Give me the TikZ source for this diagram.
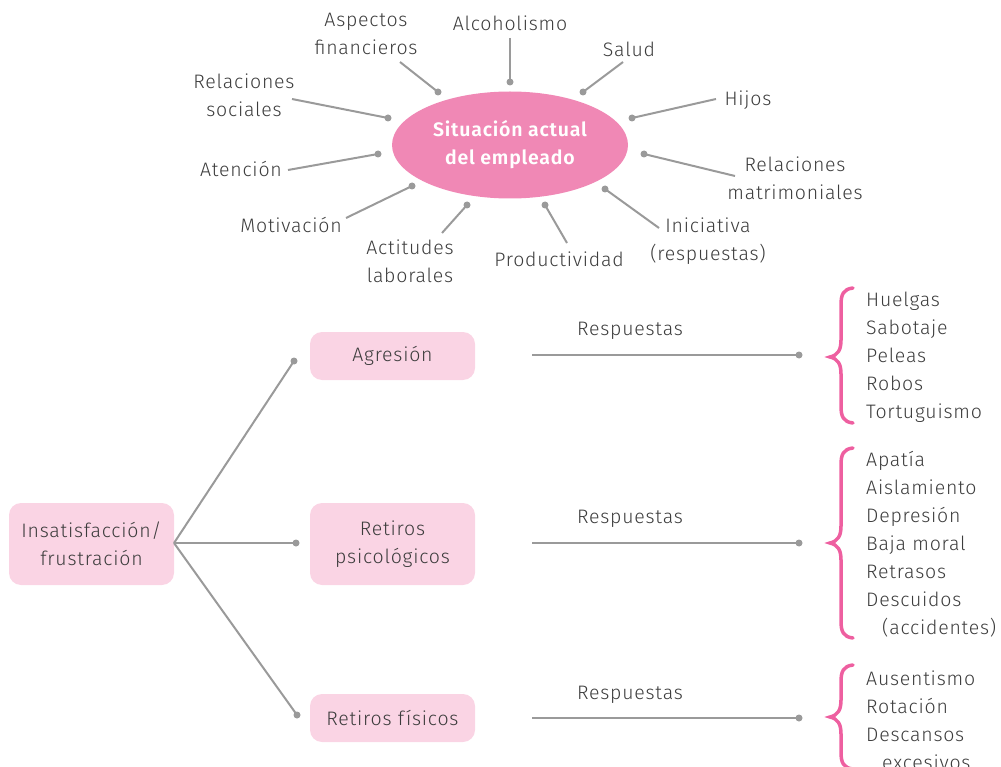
\documentclass[tikz,border=0pt]{standalone}
\usepackage{fontspec}
\setmainfont{Fira Sans Light}[BoldFont={Fira Sans SemiBold}, LetterSpace=4]
\usetikzlibrary{shapes.geometric}
\definecolor{txt}{HTML}{3C3C3C}
\definecolor{ln}{HTML}{9A9A9A}
\definecolor{ell}{HTML}{F088B5}
\definecolor{boxc}{HTML}{FAD4E4}
\definecolor{brc}{HTML}{EE5FA0}
\begin{document}
\begin{tikzpicture}[x=1pt,y=-1pt,
 lbl/.style={text=txt, font=\fontsize{19.5}{28}\selectfont, align=center, inner sep=0pt},
 lst/.style={text=txt, font=\fontsize{19.5}{28}\selectfont, align=left, inner sep=0pt, anchor=west},
 conn/.style={draw=ln, line width=2pt},
 dotn/.style={circle, fill=ln, inner sep=0pt, minimum size=7pt},
 pbox/.style={rounded corners=12pt, fill=boxc, minimum width=165pt, text=txt, font=\fontsize{19.5}{28}\selectfont, align=center, inner sep=0pt},
 bracep/.style={draw=brc, line width=3.5pt, line cap=round}]
\useasboundingbox (0,0) rectangle (1001,767);
\clip (0,0) rectangle (1001,767);

% central ellipse
\node[ellipse, fill=ell, minimum width=236pt, minimum height=107pt, inner sep=0pt,
  text=white, font=\fontsize{19.5}{28}\selectfont\bfseries, align=center] (sit) at (510,145) {Situación actual\\del empleado};

% labels
\node[lbl] (asp) at (366,34) {Aspectos\\financieros};
\node[lbl] (alc) at (510,23) {Alcoholismo};
\node[lbl] (sal) at (629,49) {Salud};
\node[lbl] (rso) at (244,95) {Relaciones\\sociales};
\node[lbl] (ate) at (241,169) {Atención};
\node[lbl] (mot) at (291,225) {Motivación};
\node[lbl] (act) at (410,261) {Actitudes\\laborales};
\node[lbl] (pro) at (559,259) {Productividad};
\node[lbl] (ini) at (708,241) {Iniciativa\\(respuestas)};
\node[lbl] (hij) at (748,100) {Hijos};
\node[lbl] (rma) at (795,178) {Relaciones\\matrimoniales};

% dots
\node[dotn] (dasp) at (438,92) {};
\node[dotn] (dalc) at (510,82) {};
\node[dotn] (dsal) at (583,92) {};
\node[dotn] (drso) at (388,118) {};
\node[dotn] (date) at (378,154) {};
\node[dotn] (dmot) at (412,186) {};
\node[dotn] (dact) at (467,205) {};
\node[dotn] (dpro) at (545,205) {};
\node[dotn] (dini) at (605,189) {};
\node[dotn] (dhij) at (632,118) {};
\node[dotn] (drma) at (644,154) {};

% free ends near labels
\coordinate (easp) at (400,62);
\coordinate (ealc) at (510,38);
\coordinate (esal) at (623,62);
\coordinate (erso) at (292,99);
\coordinate (eate) at (288,170);
\coordinate (emot) at (346,218);
\coordinate (eact) at (442,233);
\coordinate (epro) at (567,243);
\coordinate (eini) at (659,228);
\coordinate (ehij) at (716,99);
\coordinate (erma) at (735,176);

\foreach \n in {asp,alc,sal,rso,ate,mot,act,pro,ini,hij,rma}
  \draw[conn] (e\n) -- (d\n.center);

% lower part boxes
\node[pbox, minimum height=82pt] (ins) at (91.5,544) {Insatisfacción/\\frustración};
\node[pbox, minimum height=48pt] (agr) at (392.5,356) {Agresión};
\node[pbox, minimum height=82pt] (rps) at (392.5,544) {Retiros\\psicológicos};
\node[pbox, minimum height=48pt] (rfi) at (392.5,718) {Retiros físicos};

\node[dotn] (bagr) at (294,361) {};
\node[dotn] (brps) at (296,543) {};
\node[dotn] (brfi) at (297,715) {};
\coordinate (root) at (174,543);
\draw[conn] (root) -- (bagr.center);
\draw[conn] (root) -- (brps.center);
\draw[conn] (root) -- (brfi.center);

% responses
\coordinate (sagr) at (532,355);
\coordinate (srps) at (532,543);
\coordinate (srfi) at (532,718);
\node[dotn] (ragr) at (799,355) {};
\node[dotn] (rrps) at (799,543) {};
\node[dotn] (rrfi) at (799,718) {};
\draw[conn] (sagr) -- (ragr.center);
\draw[conn] (srps) -- (rrps.center);
\draw[conn] (srfi) -- (rrfi.center);
\node[lbl] (lagr) at (630,331) {Respuestas};
\node[lbl] (lrps) at (630,519) {Respuestas};
\node[lbl] (lrfi) at (630,695) {Respuestas};

% braces
\draw[bracep] (853,288) .. controls (843,289) and (841,295) .. (841,305)
  -- (841,340) .. controls (841,350) and (838,355) .. (830,357)
  .. controls (838,359) and (841,364) .. (841,374)
  -- (841,406) .. controls (841,416) and (843,422) .. (853,423);
\draw[bracep] (853,448) .. controls (843,449) and (841,455) .. (841,465)
  -- (841,526) .. controls (841,536) and (838,541) .. (830,543)
  .. controls (838,545) and (841,550) .. (841,560)
  -- (841,621) .. controls (841,631) and (843,637) .. (853,638);
\draw[bracep] (853,665) .. controls (843,666) and (841,672) .. (841,682)
  -- (841,700) .. controls (841,710) and (838,715) .. (830,717)
  .. controls (838,719) and (841,724) .. (841,734)
  -- (841,752) .. controls (841,762) and (843,768) .. (853,769);

% lists
\node[lst] (l1) at (866,357) {Huelgas\\Sabotaje\\Peleas\\Robos\\Tortuguismo};
\node[lst] (l2) at (866,544) {Apatía\\Aislamiento\\Depresión\\Baja moral\\Retrasos\\Descuidos\\\hspace*{16pt}(accidentes)};
\node[lst] (l3) at (866,720) {Ausentismo\\Rotación\\Descansos\\\hspace*{16pt}excesivos};
\end{tikzpicture}
\end{document}
